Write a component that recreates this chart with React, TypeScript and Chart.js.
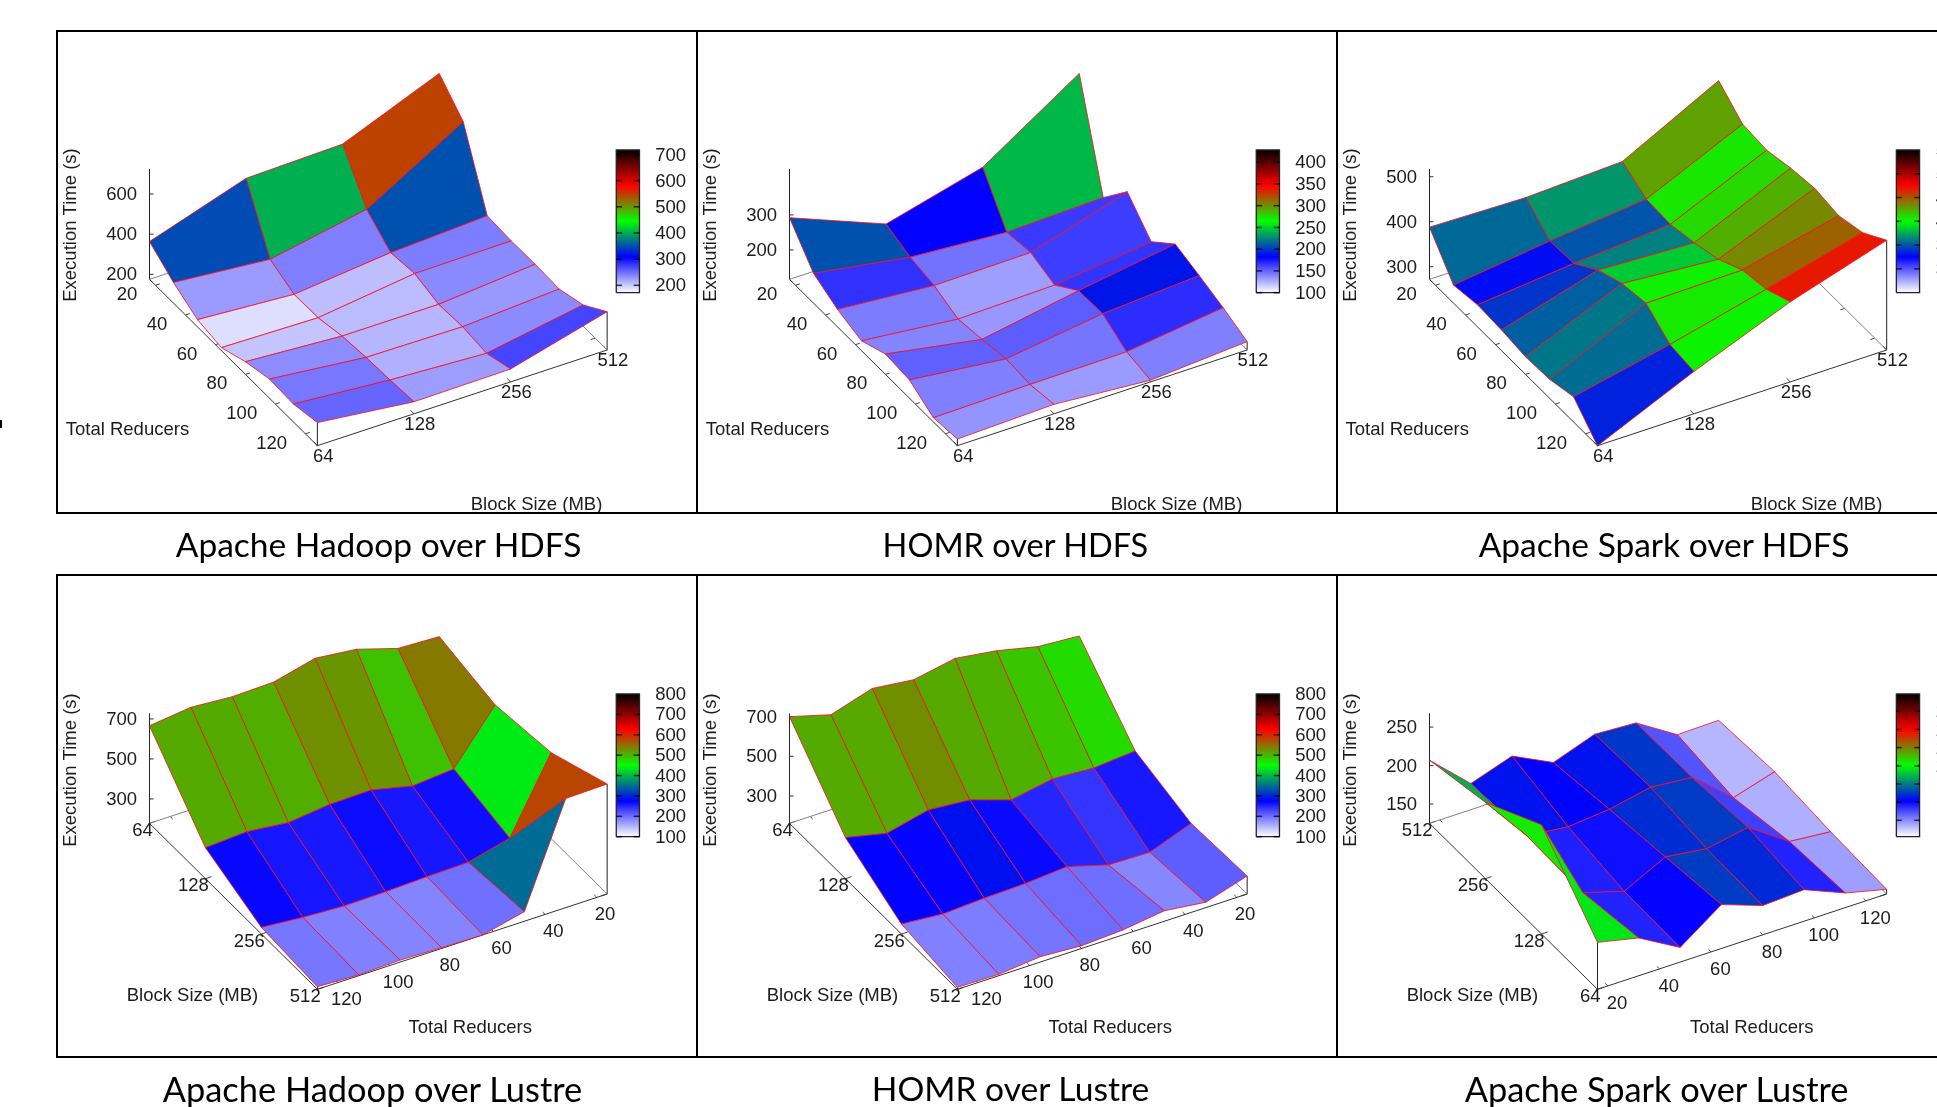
import React, { useEffect, useRef } from "react";
import { Chart, registerables } from "chart.js";

Chart.register(...registerables);

const reducers = [16, 32, 48, 64, 80, 96, 112, 128];
const blockSizes = [64, 128, 256, 512];
const reducerTicks = [20, 40, 60, 80, 100, 120];
const blockTicks = [64, 128, 256, 512];

// Execution time: one row per reducer count, one column per block size.
const hadoopHdfs = [
  [363, 519, 531, 724],
  [278, 234, 324, 602],
  [211, 178, 227, 252],
  [190, 180, 241, 245],
  [238, 207, 206, 247],
  [270, 219, 213, 242],
  [264, 225, 199, 281],
  [290, 235, 239, 366],
];
const homrHdfs = [
  [292, 183, 254, 431],
  [201, 156, 136, 144],
  [166, 143, 146, 229],
  [144, 115, 121, 154],
  [174, 125, 173, 215],
  [168, 137, 175, 193],
  [128, 132, 134, 169],
  [135, 143, 121, 140],
];
const sparkHdfs = [
  [388, 383, 392, 501],
  [312, 339, 361, 457],
  [321, 342, 358, 452],
  [318, 380, 370, 465],
  [311, 403, 386, 473],
  [314, 412, 415, 465],
  [328, 373, 425, 480],
  [272, 366, 450, 516],
];
const hadoopLustre = [
  [635, 570, 608, 728],
  [644, 318, 248, 724],
  [708, 301, 196, 226],
  [731, 349, 192, 178],
  [680, 345, 185, 182],
  [675, 322, 182, 188],
  [690, 345, 193, 182],
  [666, 333, 211, 191],
];
const homrLustre = [
  [626, 325, 239, 253],
  [641, 308, 162, 189],
  [689, 321, 167, 215],
  [719, 284, 227, 187],
  [680, 353, 211, 176],
  [705, 371, 205, 189],
  [641, 322, 194, 169],
  [700, 369, 212, 172],
];
const sparkLustre = [
  [186, 267, 224, 207],
  [174, 161, 163, 159],
  [144, 145, 157, 177],
  [182, 172, 162, 151],
  [163, 165, 173, 170],
  [166, 175, 168, 167],
  [144, 139, 124, 134],
  [131, 134, 140, 135],
];

const zTicksHadoopHdfs = [200, 400, 600];
const zTicksHomrHdfs = [200, 300];
const zTicksSparkHdfs = [300, 400, 500];
const zTicksHadoopLustre = [300, 500, 700];
const zTicksHomrLustre = [300, 500, 700];
const zTicksSparkLustre = [150, 200, 250];

const cbTicksHadoopHdfs = [200, 300, 400, 500, 600, 700];
const cbTicksHomrHdfs = [100, 150, 200, 250, 300, 350, 400];
const cbTicksSparkHdfs = [300, 350, 400, 450, 500, 550];
const cbTicksLustre = [100, 200, 300, 400, 500, 600, 700, 800];
const cbTicksSparkLustre = [140, 160, 180, 200, 220, 240, 260];

const titles = [
  "Apache Hadoop over HDFS",
  "HOMR over HDFS",
  "Apache Spark over HDFS",
  "Apache Hadoop over Lustre",
  "HOMR over Lustre",
  "Apache Spark over Lustre",
];

const PALETTE = [
  [255, 255, 255],
  [0, 0, 255],
  [0, 255, 0],
  [255, 0, 0],
  [0, 0, 0],
];

function paletteColor(f: number) {
  const t = Math.max(0, Math.min(0.9999, f)) * 4;
  const k = Math.floor(t);
  const u = t - k;
  const a = PALETTE[k];
  const b = PALETTE[k + 1];
  return `rgb(${a.map((v, n) => Math.round(v + (b[n] - v) * u)).join(",")})`;
}

type Side = { align: CanvasTextAlign; dx: number; dy: number };
type Panel = {
  crop: [number, number, number, number];
  grid: number[][];
  origin: [number, number];
  vecR: [number, number];
  vecB: [number, number];
  zBase: number;
  zScale: number;
  zTop: number;
  zTicks: number[];
  zLabelX: number;
  axisCorner: [number, number];
  frontCorners: [number, number][];
  rEdge: number;
  bEdge: number;
  rLabel: Side;
  bLabel: Side;
  cbRange: [number, number];
  cbTicks: number[];
  cbX: [number, number];
  cbY: [number, number];
  cbLabelX: number;
  execX: number;
  reducersPos: [number, number];
  blockPos: [number, number];
};

const hdfsCommon = {
  vecR: [57.86, 71.29] as [number, number],
  vecB: [233, -95.67] as [number, number],
  origin: [240, 763] as [number, number],
  zTop: 432,
  zLabelX: 210,
  axisCorner: [0, 0] as [number, number],
  frontCorners: [[7, 0], [7, 3]] as [number, number][],
  rEdge: 0,
  bEdge: 7,
  rLabel: { align: "right" as CanvasTextAlign, dx: -44, dy: 27 },
  bLabel: { align: "center" as CanvasTextAlign, dx: 14, dy: 31 },
  cbX: [1366, 1422] as [number, number],
  cbY: [803, 375] as [number, number],
  cbLabelX: 1460,
  execX: 50,
  reducersPos: [38, 1213] as [number, number],
  blockPos: [1015, 1438] as [number, number],
};
const lustreCommon = {
  vecR: [-99.86, 40.86] as [number, number],
  vecB: [135, 166] as [number, number],
  origin: [939, 474] as [number, number],
  zTop: 430,
  zLabelX: 210,
  axisCorner: [7, 0] as [number, number],
  frontCorners: [[7, 3], [0, 3]] as [number, number][],
  rEdge: 3,
  bEdge: 7,
  rLabel: { align: "center" as CanvasTextAlign, dx: 20, dy: 49 },
  bLabel: { align: "right" as CanvasTextAlign, dx: 8, dy: 20 },
  cbX: [1366, 1422] as [number, number],
  cbY: [800, 372] as [number, number],
  cbLabelX: 1460,
  execX: 50,
  reducersPos: [865, 1370] as [number, number],
  blockPos: [185, 1276] as [number, number],
};

const panels: Panel[] = [
  {
    ...hdfsCommon,
    crop: [50, 25, 650, 500],
    grid: hadoopHdfs,
    zBase: 175,
    zScale: 0.6025,
    zTicks: zTicksHadoopHdfs,
    cbRange: [172, 717],
    cbTicks: cbTicksHadoopHdfs,
  },
  {
    ...hdfsCommon,
    crop: [690, 25, 650, 500],
    grid: homrHdfs,
    zBase: 116,
    zScale: 1.05,
    zTicks: zTicksHomrHdfs,
    cbRange: [100, 428],
    cbTicks: cbTicksHomrHdfs,
  },
  {
    ...hdfsCommon,
    crop: [1330, 25, 607, 500],
    grid: sparkHdfs,
    origin: [257, 763],
    vecR: [62, 71.29],
    vecB: [249, -95.67],
    zBase: 272,
    zScale: 1.35,
    zTicks: zTicksSparkHdfs,
    zLabelX: 225,
    rLabel: { align: "right", dx: -48, dy: 27 },
    bLabel: { align: "center", dx: 15, dy: 31 },
    cbRange: [250, 550],
    cbTicks: cbTicksSparkHdfs,
    cbX: [1463, 1523],
    cbLabelX: 1565,
    execX: 54,
    reducersPos: [40, 1213],
    blockPos: [1087, 1438],
  },
  {
    ...lustreCommon,
    crop: [50, 570, 650, 500],
    grid: hadoopLustre,
    zBase: 178,
    zScale: 0.6,
    zTicks: zTicksHadoopLustre,
    cbRange: [100, 800],
    cbTicks: cbTicksLustre,
  },
  {
    ...lustreCommon,
    crop: [690, 570, 650, 500],
    grid: homrLustre,
    zBase: 162,
    zScale: 0.595,
    zTicks: zTicksHomrLustre,
    cbRange: [100, 800],
    cbTicks: cbTicksLustre,
  },
  {
    ...lustreCommon,
    crop: [1330, 570, 607, 500],
    grid: sparkLustre,
    origin: [691, 1258],
    vecR: [106.7, -40.86],
    vecB: [-144.67, -166],
    zBase: 125,
    zScale: 2.31,
    zTicks: zTicksSparkLustre,
    zLabelX: 225,
    axisCorner: [0, 3],
    frontCorners: [[0, 0], [7, 0]],
    rEdge: 0,
    bEdge: 0,
    rLabel: { align: "center", dx: 24, dy: 50 },
    bLabel: { align: "right", dx: 8, dy: 20 },
    cbRange: [122, 279],
    cbTicks: cbTicksSparkLustre,
    cbX: [1463, 1523],
    cbLabelX: 1565,
    execX: 54,
    reducersPos: [930, 1370],
    blockPos: [198, 1276],
  },
];

const ROWS = reducers.length;
const COLS = blockSizes.length;
const rIndex = (r: number) => (r - reducers[0]) / (reducers[1] - reducers[0]);
const bIndex = (b: number) => Math.log2(b / blockSizes[0]);

function makeDatasets(p: Panel) {
  const base = (r: number, b: number) => ({
    x: p.origin[0] + r * p.vecR[0] + b * p.vecB[0],
    y: p.origin[1] + r * p.vecR[1] + b * p.vecB[1],
  });
  const top = (r: number, b: number) => {
    const q = base(r, b);
    return { x: q.x, y: q.y - (p.grid[r][b] - p.zBase) * p.zScale };
  };
  const line = (data: any[], color: string, width = 1) => ({
    data,
    showLine: true,
    pointRadius: 0,
    borderColor: color,
    borderWidth: width,
    tension: 0,
    fill: false,
  });
  const sets: any[] = [];

  // Surface cells, painted far to near; Chart.js paints the last dataset first.
  const cells: any[] = [];
  for (let r = 0; r < ROWS - 1; r++) {
    for (let b = 0; b < COLS - 1; b++) {
      const mean = (p.grid[r][b] + p.grid[r + 1][b] + p.grid[r][b + 1] + p.grid[r + 1][b + 1]) / 4;
      cells.push({
        depth: base(r + 0.5, b + 0.5).y,
        set: {
          data: [top(r, b), top(r + 1, b), top(r + 1, b + 1), top(r, b + 1), top(r, b)],
          showLine: true,
          pointRadius: 0,
          tension: 0,
          borderWidth: 1,
          borderColor: "rgba(245,15,35,0.82)",
          backgroundColor: paletteColor((mean - p.cbRange[0]) / (p.cbRange[1] - p.cbRange[0])),
          fill: "shape",
        },
      });
    }
  }
  cells.sort((a, c) => c.depth - a.depth);
  cells.forEach((c) => sets.push(c.set));

  // Colour box.
  const [cbMin, cbMax] = p.cbRange;
  const [x0, x1] = p.cbX;
  const [yb, yt] = p.cbY;
  const cbY = (v: number) => yb + ((v - cbMin) / (cbMax - cbMin)) * (yt - yb);
  p.cbTicks.forEach((v) => {
    if (v === cbMax) return;
    sets.push(line([{ x: x0, y: cbY(v) }, { x: x0 + 14, y: cbY(v) }], "rgba(0,0,0,0.75)", 1.5));
    sets.push(line([{ x: x1 - 14, y: cbY(v) }, { x: x1, y: cbY(v) }], "rgba(0,0,0,0.75)", 1.5));
  });
  sets.push({
    data: [{ x: x0, y: yb }, { x: x1, y: yb }, { x: x1, y: yt }, { x: x0, y: yt }, { x: x0, y: yb }],
    showLine: true,
    pointRadius: 0,
    tension: 0,
    borderWidth: 1.3,
    borderColor: "#222",
    fill: "shape",
    backgroundColor: (ctx: any) => {
      const k = ctx.chart.height / 1500;
      const g = ctx.chart.ctx.createLinearGradient(0, yb * k, 0, yt * k);
      PALETTE.forEach((c, n) => g.addColorStop(n / 4, `rgb(${c.join(",")})`));
      return g;
    },
  });

  // Base box, z axis, corner posts and ticks (under the surface).
  const corners: [number, number][] = [[0, 0], [7, 0], [7, 3], [0, 3]];
  const isFront = (c: [number, number]) => base(c[0], c[1]).y === Math.max(...corners.map((k) => base(k[0], k[1]).y));
  corners.forEach((c, n) => {
    const d = corners[(n + 1) % 4];
    const dark = isFront(c) || isFront(d);
    sets.push(line([base(c[0], c[1]), base(d[0], d[1])], dark ? "#333" : "#808080", 1));
  });
  const ax = base(p.axisCorner[0], p.axisCorner[1]);
  sets.push(line([ax, { x: ax.x, y: p.zTop }], "#222", 1));
  const zy = (v: number) => ax.y - (v - p.zBase) * p.zScale;
  p.zTicks.forEach((v) => sets.push(line([{ x: ax.x, y: zy(v) }, { x: ax.x + 10, y: zy(v) }], "#333", 1)));
  p.frontCorners.forEach(([r, b]) => sets.push(line([base(r, b), top(r, b)], "#222", 1)));
  [p.rEdge, 3 - p.rEdge].forEach((e) => {
    const sign = e === 0 ? 1 : -1;
    reducerTicks.forEach((v) => {
      const q = base(rIndex(v), e);
      sets.push(line([q, { x: q.x + sign * p.vecB[0] * 0.045, y: q.y + sign * p.vecB[1] * 0.045 }], "#444", 1));
    });
  });
  [p.bEdge, 7 - p.bEdge].forEach((e) => {
    const sign = e === 0 ? 1 : -1;
    blockTicks.forEach((v) => {
      const q = base(e, bIndex(v));
      sets.push(line([q, { x: q.x + sign * p.vecR[0] * 0.15, y: q.y + sign * p.vecR[1] * 0.15 }], "#444", 1));
    });
  });

  const textPlugin = {
    id: "panelText",
    afterDatasetsDraw(chart: any) {
      const { ctx, scales } = chart;
      const px = (x: number) => scales.x.getPixelForValue(x);
      const py = (y: number) => scales.y.getPixelForValue(y);
      ctx.save();
      ctx.fillStyle = "#1c1c1c";
      ctx.font = "18.5px 'Liberation Sans'";
      ctx.textBaseline = "middle";
      const put = (s: string, x: number, y: number, a: CanvasTextAlign) => {
        ctx.textAlign = a;
        ctx.fillText(s, px(x), py(y) + 1);
      };
      p.zTicks.forEach((v) => put(String(v), p.zLabelX, zy(v), "right"));
      reducerTicks.forEach((v) => {
        const q = base(rIndex(v), p.rEdge);
        put(String(v), q.x + p.rLabel.dx, q.y + p.rLabel.dy, p.rLabel.align);
      });
      blockTicks.forEach((v) => {
        const q = base(p.bEdge, bIndex(v));
        put(String(v), q.x + p.bLabel.dx, q.y + p.bLabel.dy, p.bLabel.align);
      });
      p.cbTicks.forEach((v) => put(String(v), p.cbLabelX, cbY(v), "left"));
      put("Total Reducers", p.reducersPos[0], p.reducersPos[1], "left");
      put("Block Size (MB)", p.blockPos[0], p.blockPos[1], "left");
      ctx.translate(px(p.execX), py(600));
      ctx.rotate(-Math.PI / 2);
      ctx.textAlign = "center";
      ctx.fillText("Execution Time (s)", 0, 0);
      ctx.restore();
    },
  };
  return { sets, textPlugin };
}

function PanelChart({ panel }: { panel: Panel }) {
  const ref = useRef<HTMLCanvasElement | null>(null);
  useEffect(() => {
    const { sets, textPlugin } = makeDatasets(panel);
    const chart = new Chart(ref.current as HTMLCanvasElement, {
      type: "scatter",
      data: { datasets: sets },
      plugins: [textPlugin],
      options: {
        responsive: false,
        animation: false,
        layout: { padding: 0 },
        scales: {
          x: { type: "linear", min: 0, max: 1568, display: false },
          y: { type: "linear", min: 0, max: 1500, reverse: true, display: false },
        },
        plugins: { legend: { display: false }, tooltip: { enabled: false } },
      },
    } as any);
    return () => chart.destroy();
  }, [panel]);
  const [left, top, w, h] = panel.crop;
  return (
    <canvas
      ref={ref}
      width={w}
      height={h}
      style={{ position: "absolute", left, top, width: w, height: h, display: "block", filter: "blur(0.4px)" }}
    />
  );
}

const bar = (left: number, top: number, width: number, height: number) => (
  <div key={`${left}-${top}-${width}`} style={{ position: "absolute", left, top, width, height, background: "#000" }} />
);

const titleSpots: [number, number, number][] = [
  [378.6, 544, 33.5],
  [1015.4, 544, 32.5],
  [1664, 544, 33.5],
  [372.5, 1088, 34.4],
  [1010.5, 1088, 33.6],
  [1656.6, 1088, 34.4],
];

export default function App() {
  return (
    <div
      style={{
        position: "absolute",
        left: 0,
        top: 0,
        width: 1937,
        height: 1107,
        overflow: "hidden",
        background: "#fff",
      }}
    >
      {panels.map((p, n) => (
        <PanelChart key={n} panel={p} />
      ))}
      {[30, 512, 574, 1056].map((y) => bar(56, y, 1881, 2))}
      {[56, 696, 1336].map((x) => bar(x, 30, 2, 484))}
      {[56, 696, 1336].map((x) => bar(x, 574, 2, 484))}
      {bar(0, 420, 2, 8)}
      {titles.map((t, n) => (
        <div
          key={t}
          style={{
            position: "absolute",
            left: titleSpots[n][0],
            top: titleSpots[n][1],
            transform: "translate(-50%,-50%)",
            whiteSpace: "nowrap",
            fontFamily: "Lato, 'Open Sans', sans-serif",
            fontSize: titleSpots[n][2],
            color: "#000",
          }}
        >
          {t}
        </div>
      ))}
    </div>
  );
}
